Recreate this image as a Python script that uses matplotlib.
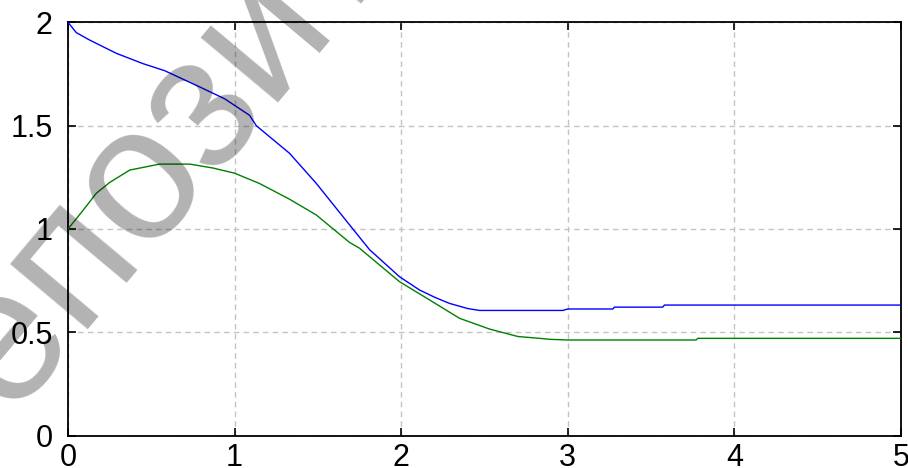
"""Two step responses on a MATLAB-style grid, with the diagonal watermark."""

import matplotlib

matplotlib.use("Agg")

import matplotlib.pyplot as plt

# values
blue_x = [0, 0.05, 0.13, 0.29, 0.45, 0.58, 0.81, 0.94, 1.09, 1.13, 1.2, 1.33, 1.49,
          1.69, 1.81, 1.99, 2.11, 2.2, 2.29, 2.4, 2.47, 2.97, 3.0, 3.27, 3.28, 3.57, 3.58, 5.0]
blue_y = [2.0, 1.95, 1.914, 1.85, 1.80, 1.766, 1.68, 1.63, 1.55, 1.50, 1.453, 1.366, 1.221,
          1.02, 0.90, 0.769, 0.705, 0.67, 0.64, 0.615, 0.606, 0.606, 0.613, 0.613, 0.622, 0.622,
          0.632, 0.632]

green_x = [0, 0.09, 0.17, 0.25, 0.37, 0.55, 0.73, 0.87, 1.0, 1.15, 1.33, 1.49, 1.69, 1.75,
           1.99, 2.17, 2.35, 2.53, 2.7, 2.9, 3.0, 3.77, 3.78, 5.0]
green_y = [1.0, 1.09, 1.173, 1.225, 1.285, 1.314, 1.314, 1.295, 1.27, 1.22, 1.144, 1.068,
           0.935, 0.907, 0.745, 0.657, 0.568, 0.516, 0.48, 0.466, 0.463, 0.463, 0.471, 0.471]

x_ticks = [0, 1, 2, 3, 4, 5]
y_ticks = [0, 0.5, 1, 1.5, 2]
y_tick_labels = ["0", "0.5", "1", "1.5", "2"]
watermark = "репозиторий"

plt.rcParams["font.family"] = ["Liberation Sans", "DejaVu Sans"]

W, H = 908, 468
fig = plt.figure(figsize=(W / 100, H / 100), dpi=100)
ax = fig.add_axes([68 / W, 32.3 / H, 833 / W, 413.4 / H])

ax.plot(blue_x, blue_y, color="#0000ff", linewidth=1.0, zorder=3)
ax.plot(green_x, green_y, color="#008000", linewidth=1.0, zorder=3)

ax.set_xlim(0, 5)
ax.set_ylim(0, 2)
ax.set_xticks(x_ticks)
ax.set_xticklabels([str(t) for t in x_ticks])
ax.set_yticks(y_ticks)
ax.set_yticklabels(y_tick_labels)
ax.tick_params(direction="in", length=6, width=1.2, top=True, right=True, labelsize=22)
ax.tick_params(axis="x", pad=5)
ax.tick_params(axis="y", pad=11)
ax.grid(True, color="#c4c4c4", linestyle=(0, (4, 3)), linewidth=1.0)
ax.set_axisbelow(True)
for spine in ax.spines.values():
    spine.set_linewidth(1.3)

# translucent watermark, word starts below the bottom-left corner of the figure
fig.text(-61 / W, -24 / H, watermark, fontsize=138, color="black", alpha=0.3,
         rotation=50, rotation_mode="anchor", ha="left", va="baseline", zorder=10)

fig.savefig("out.png", dpi=100)
